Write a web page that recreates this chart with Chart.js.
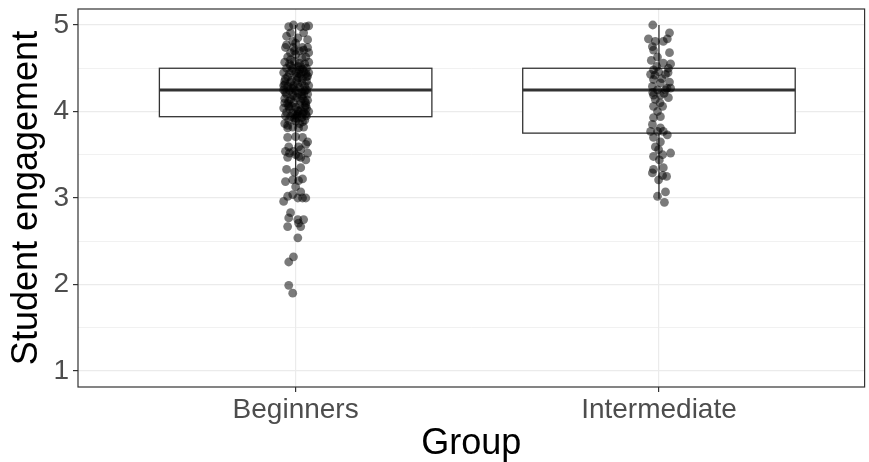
<!DOCTYPE html>
<html>
<head>
    <title>Student engagement by group</title>
    <meta charset="UTF-8">
    <script src="https://cdn.jsdelivr.net/npm/chart.js"></script>
    <style>
        html, body { margin: 0; padding: 0; background: #fff; }
        canvas { display: block; }
    </style>
</head>
<body>
    <canvas id="chart" width="869" height="462"></canvas>

    <script>
        // categories and axis ticks
        const groups = ['Beginners', 'Intermediate'];
        const yTicks = [1, 1.5, 2, 2.5, 3, 3.5, 4, 4.5, 5];

        // box summaries, one entry per group
        const boxQ1 = [3.94, 3.75];
        const boxMedian = [4.25, 4.25];
        const boxQ3 = [4.5, 4.5];
        const whiskerLow = [3.17, 2.99];
        const whiskerHigh = [5.0, 5.0];

        // jittered raw scores (x = group position + jitter)
        const begX = [
            0.981, 0.994, 1.014, 1.028, 1.036, 0.986, 1.022, 1.006, 0.992, 1.033, 0.975,
            0.972, 0.994, 1.019, 1.033, 0.978, 1.000, 1.028, 1.011, 0.986, 1.036,
            0.970, 0.983, 0.997, 1.011, 1.025, 1.036, 0.975, 0.992, 1.006, 1.019, 1.030,
            0.967, 0.983, 1.000, 1.014, 1.028, 0.978, 1.008, 1.033,
            0.970, 0.986, 1.003, 1.017, 1.030, 0.978, 0.994, 1.011, 1.025, 1.036,
            0.967, 0.983, 1.000, 1.017, 1.030, 0.975, 0.992, 1.008, 1.022,
            0.970, 0.986, 1.003, 1.019, 1.033, 0.978, 0.994, 1.011, 1.028,
            0.967, 0.983, 1.000, 1.014, 1.030, 0.975, 0.992, 1.008, 1.022, 1.036,
            0.972, 0.986, 1.003, 1.017, 1.030, 0.981, 1.000, 1.025, 0.970, 1.011,
            0.978, 0.992, 1.008, 1.022, 0.978, 1.000, 1.019, 0.981, 1.008, 1.028,
            0.972, 0.994, 1.014, 1.033, 0.978, 1.000, 1.014, 0.997, 1.014, 1.028,
            0.972, 0.992, 1.008, 1.019, 0.978, 0.992, 1.006, 1.019, 1.028, 1.014, 0.967,
            0.986, 0.981, 1.006, 1.022, 1.008, 0.978, 1.014,
            1.006, 0.994, 0.981, 0.981, 0.992,
            0.989, 1.022, 0.972, 1.003, 1.019, 0.989, 1.006, 1.025, 0.997, 1.014,
            0.981, 1.028, 0.989, 1.006, 0.997, 1.019, 1.033, 0.967, 1.036, 0.970,
            1.008, 0.986, 1.017, 0.997, 1.025,
            0.975, 1.000, 1.022, 0.986, 1.011, 1.030, 0.970, 0.994, 1.017, 0.981,
            1.006, 1.028, 0.978, 1.003, 1.025, 0.989, 1.014, 0.972, 0.997, 1.019,
            0.983, 1.008, 1.033, 0.975, 1.000
        ];
        const begY = [
            4.98, 5.00, 4.98, 4.98, 4.99, 4.91, 4.91, 4.85, 4.81, 4.83, 4.87,
            4.74, 4.74, 4.74, 4.74, 4.63, 4.66, 4.63, 4.70, 4.68, 4.68,
            4.57, 4.55, 4.58, 4.56, 4.55, 4.57, 4.50, 4.50, 4.52, 4.49, 4.50,
            4.45, 4.44, 4.45, 4.43, 4.44, 4.40, 4.39, 4.41,
            4.35, 4.34, 4.36, 4.33, 4.35, 4.29, 4.30, 4.28, 4.29, 4.30,
            4.25, 4.24, 4.24, 4.23, 4.25, 4.20, 4.19, 4.21, 4.20,
            4.15, 4.14, 4.16, 4.15, 4.13, 4.09, 4.10, 4.08, 4.10,
            4.04, 4.03, 4.05, 4.02, 4.04, 3.99, 3.98, 4.00, 3.99, 4.00,
            3.95, 3.94, 3.95, 3.93, 3.95, 3.90, 3.89, 3.90, 3.86, 3.86,
            3.81, 3.82, 3.81, 3.82, 3.70, 3.71, 3.70, 3.59, 3.59, 3.62,
            3.54, 3.54, 3.56, 3.52, 3.47, 3.50, 3.47, 3.30, 3.35, 3.44,
            3.19, 3.21, 3.20, 3.22, 3.02, 3.04, 3.00, 3.00, 3.00, 3.07, 2.96,
            2.83, 2.77, 2.75, 2.75, 2.71, 2.67, 2.67,
            2.54, 2.32, 2.26, 1.99, 1.90,
            4.47, 4.46, 4.38, 4.41, 4.38, 4.27, 4.32, 4.24, 4.18, 4.12,
            4.12, 4.07, 4.06, 3.97, 3.92, 3.97, 4.20, 4.30, 4.45, 4.10,
            4.44, 4.60, 4.62, 4.70, 4.05,
            4.77, 4.79, 4.71, 4.53, 4.48, 4.40, 4.31, 4.27, 4.18, 4.06,
            4.01, 3.97, 3.84, 3.92, 4.12, 4.36, 4.52, 4.22, 3.96, 3.88,
            3.52, 3.48, 3.65, 3.33, 3.13
        ];
        const intX = [
            1.983, 2.029, 1.971, 1.990, 2.012, 2.023, 1.982, 1.985, 2.029, 1.979,
            1.996, 2.012, 2.032, 1.985, 1.999, 2.026, 1.977, 2.018, 1.985, 2.004,
            2.029, 1.982, 1.996, 2.018, 2.032, 1.985, 2.004, 2.026, 1.990, 1.985,
            2.010, 1.996, 1.985, 2.004, 1.982, 2.004, 1.977, 1.996, 2.012, 2.023,
            1.985, 2.004, 1.990, 1.999, 1.985, 2.010, 2.032, 2.001, 1.985, 1.982,
            2.012, 2.010, 2.021, 1.999, 1.996, 2.018, 2.015,
            1.989, 2.008, 2.022, 1.983, 2.003, 2.025, 1.994, 2.014
        ];
        const intY = [
            5.00, 4.91, 4.84, 4.81, 4.81, 4.84, 4.75, 4.71, 4.68, 4.59,
            4.63, 4.56, 4.55, 4.48, 4.46, 4.50, 4.43, 4.43, 4.37, 4.33,
            4.34, 4.29, 4.25, 4.25, 4.27, 4.19, 4.19, 4.16, 4.14, 4.06,
            4.06, 4.00, 3.93, 3.94, 3.85, 3.81, 3.77, 3.77, 3.77, 3.73,
            3.70, 3.65, 3.59, 3.56, 3.48, 3.50, 3.52, 3.44, 3.33, 3.29,
            3.35, 3.26, 3.25, 3.21, 3.02, 3.07, 2.95,
            4.42, 4.38, 4.27, 4.22, 4.10, 4.45, 4.52, 4.21
        ];

        const FONT = "'Liberation Sans', Arial, sans-serif";
        const BOX_HALF = 0.375;

        // boxes are drawn under the points, from the scales
        const boxPlugin = {
            id: 'boxes',
            beforeDatasetsDraw(chart) {
                const ctx = chart.ctx;
                const xs = chart.scales.x, ys = chart.scales.y;
                ctx.save();
                ctx.strokeStyle = '#333333';
                groups.forEach((g, i) => {
                    const cx = xs.getPixelForValue(i + 1);
                    const l = xs.getPixelForValue(i + 1 - BOX_HALF);
                    const r = xs.getPixelForValue(i + 1 + BOX_HALF);
                    const q1 = ys.getPixelForValue(boxQ1[i]);
                    const q3 = ys.getPixelForValue(boxQ3[i]);
                    const md = ys.getPixelForValue(boxMedian[i]);
                    // whiskers
                    ctx.lineWidth = 1.3;
                    ctx.beginPath();
                    ctx.moveTo(cx, ys.getPixelForValue(whiskerHigh[i]));
                    ctx.lineTo(cx, q3);
                    ctx.moveTo(cx, q1);
                    ctx.lineTo(cx, ys.getPixelForValue(whiskerLow[i]));
                    ctx.stroke();
                    // box
                    ctx.fillStyle = '#ffffff';
                    ctx.fillRect(l, q3, r - l, q1 - q3);
                    ctx.strokeRect(l, q3, r - l, q1 - q3);
                    // median
                    ctx.lineWidth = 3;
                    ctx.beginPath();
                    ctx.moveTo(l, md);
                    ctx.lineTo(r, md);
                    ctx.stroke();
                });
                ctx.restore();
            },
            afterDatasetsDraw(chart) {
                const a = chart.chartArea;
                const ctx = chart.ctx;
                ctx.save();
                ctx.strokeStyle = '#333333';
                ctx.lineWidth = 1.2;
                ctx.strokeRect(a.left, a.top, a.right - a.left, a.bottom - a.top);
                ctx.restore();
            }
        };

        const pointStyle = {
            backgroundColor: 'rgba(0,0,0,0.52)',
            borderWidth: 0,
            pointRadius: 4.4
        };

        new Chart(document.getElementById('chart'), {
            type: 'scatter',
            data: {
                datasets: [
                    Object.assign({ label: groups[0], data: begX.map((x, i) => ({ x: x, y: begY[i] })) }, pointStyle),
                    Object.assign({ label: groups[1], data: intX.map((x, i) => ({ x: x, y: intY[i] })) }, pointStyle)
                ]
            },
            options: {
                responsive: false,
                animation: false,
                devicePixelRatio: 1,
                layout: { padding: { top: 9, right: 1, left: 0, bottom: 0 } },
                plugins: { legend: { display: false }, tooltip: { enabled: false } },
                scales: {
                    x: {
                        type: 'linear',
                        min: 0.401,
                        max: 2.566,
                        afterBuildTicks: s => { s.ticks = groups.map((g, i) => ({ value: i + 1 })); },
                        afterFit: s => { s.height = 75; s.paddingLeft = 0; s.paddingRight = 0; },
                        border: { display: false },
                        grid: { color: '#ebebeb', lineWidth: 1.2, tickColor: '#333333', tickLength: 5 },
                        ticks: {
                            padding: 1,
                            color: '#4d4d4d',
                            font: { family: FONT, size: 28 },
                            callback: v => groups[Math.round(v) - 1]
                        },
                        title: {
                            display: true,
                            text: 'Group',
                            color: '#000000',
                            font: { family: FONT, size: 36, lineHeight: 1.0 },
                            padding: { top: 0, bottom: 0 }
                        }
                    },
                    y: {
                        min: 0.815,
                        max: 5.185,
                        afterBuildTicks: s => { s.ticks = yTicks.map(v => ({ value: v })); },
                        afterFit: s => { s.width = 78; s.paddingTop = 0; s.paddingBottom = 0; },
                        border: { display: false },
                        grid: {
                            color: '#ebebeb',
                            lineWidth: c => (c.tick && Number.isInteger(c.tick.value)) ? 1.2 : 0.7,
                            tickColor: c => (c.tick && Number.isInteger(c.tick.value)) ? '#333333' : 'rgba(0,0,0,0)',
                            tickLength: 5
                        },
                        ticks: {
                            padding: 4,
                            color: '#4d4d4d',
                            font: { family: FONT, size: 28 },
                            callback: v => Number.isInteger(v) ? String(v) : ''
                        },
                        title: {
                            display: true,
                            text: 'Student engagement',
                            color: '#000000',
                            font: { family: FONT, size: 36 },
                            padding: { top: 5, bottom: 0 }
                        }
                    }
                }
            },
            plugins: [boxPlugin]
        });
    </script>
</body>
</html>
